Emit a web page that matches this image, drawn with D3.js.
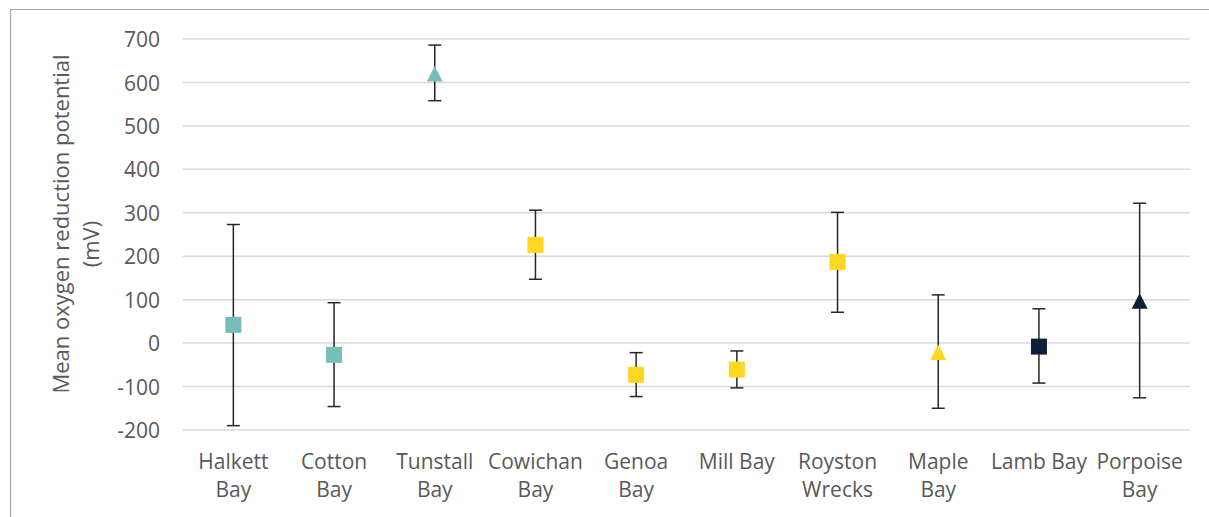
<!DOCTYPE html>
<html>
<head>
<meta charset="utf-8">
<script src="https://cdn.jsdelivr.net/npm/d3@7"></script>
<style>
  html, body { margin: 0; padding: 0; background: #fff; }
  svg { display: block; }
  text { font-family: "Open Sans", sans-serif; fill: #595959; }
</style>
</head>
<body>
<svg id="chart" width="1209" height="517"></svg>
<script>
// ---- data ----
const categories = ["Halkett Bay", "Cotton Bay", "Tunstall Bay", "Cowichan Bay", "Genoa Bay",
                    "Mill Bay", "Royston Wrecks", "Maple Bay", "Lamb Bay", "Porpoise Bay"];
const means      = [42, -27, 620, 226, -73, -61, 187, -21, -8, 97];
const errUpper   = [273, 93, 686, 306, -22, -18, 301, 111, 79, 322];
const errLower   = [-190, -146, 558, 147, -123, -103, 71, -150, -92, -126];
const groups     = ["teal", "teal", "teal", "yellow", "yellow", "yellow", "yellow", "yellow", "navy", "navy"];
const shapes     = ["square", "square", "triangle", "square", "square", "square", "square", "triangle", "square", "triangle"];
const yTicks     = [-200, -100, 0, 100, 200, 300, 400, 500, 600, 700];
const yTitle     = ["Mean oxygen reduction potential", "(mV)"];

const colors = { teal: "#76BEB9", yellow: "#FFD720", navy: "#0E1F38" };

// ---- layout ----
const svg = d3.select("#chart");
const plot = { left: 183, right: 1190, top: 39, bottom: 430 };

const x = d3.scaleBand().domain(categories).range([plot.left, plot.right]).padding(0);
const y = d3.scaleLinear().domain([-200, 700]).range([plot.bottom, plot.top]);

// frame
svg.append("path")
  .attr("d", `M10.5,520 L10.5,9.5 L1212,9.5`)
  .attr("fill", "none").attr("stroke", "#a6a6a6").attr("stroke-width", 1.2);

// gridlines
svg.append("g").selectAll("line").data(yTicks).join("line")
  .attr("x1", plot.left).attr("x2", plot.right)
  .attr("y1", d => y(d)).attr("y2", d => y(d))
  .attr("stroke", "#d9d9d9").attr("stroke-width", 1.5);

// y axis labels
const yAxis = d3.axisLeft(y).tickValues(yTicks).tickSize(0).tickPadding(0)
  .tickFormat(d => String(d));
const gy = svg.append("g").attr("transform", `translate(160,0)`).call(yAxis);
gy.select(".domain").remove();
gy.selectAll("text")
  .attr("font-size", 21).attr("fill", "#595959")
  .attr("font-family", "'Open Sans', sans-serif")
  .attr("dy", "0.36em");

// x axis labels
const xAxis = d3.axisBottom(x).tickSize(0).tickFormat("");
const gx = svg.append("g").attr("transform", `translate(0,${plot.bottom})`).call(xAxis);
gx.select(".domain").remove();
gx.selectAll(".tick").each(function(d) {
  const g = d3.select(this);
  g.select("text").remove();
  const t = g.append("text").attr("text-anchor", "middle").attr("font-size", 21)
    .attr("fill", "#595959");
  // wrap into lines that fit the band
  const words = d.split(" ");
  const lines = [];
  let cur = "";
  const probe = t.append("tspan");
  words.forEach(w => {
    const test = cur ? cur + " " + w : w;
    probe.text(test);
    if (probe.node().getComputedTextLength() > x.bandwidth() && cur) {
      lines.push(cur); cur = w;
    } else cur = test;
  });
  lines.push(cur);
  probe.remove();
  lines.forEach((ln, i) => {
    t.append("tspan").attr("x", 0).attr("y", 38.5 + i * 28.5).text(ln);
  });
});

// y title
const titleG = svg.append("g");
titleG.append("text")
  .attr("transform", `translate(69,224) rotate(-90)`)
  .attr("text-anchor", "middle").attr("font-size", 22)
  .text(yTitle[0]);
titleG.append("text")
  .attr("transform", `translate(99,244) rotate(-90)`)
  .attr("text-anchor", "middle").attr("font-size", 22)
  .text(yTitle[1]);

// error bars
const data = categories.map((c, i) => ({
  c, m: means[i], hi: errUpper[i], lo: errLower[i], g: groups[i], s: shapes[i]
}));
const cx = d => x(d.c) + x.bandwidth() / 2;
const capW = 6.5;
const eb = svg.append("g").attr("stroke", "#262626").attr("stroke-width", 1.5);
eb.selectAll("line.v").data(data).join("line").attr("class", "v")
  .attr("x1", cx).attr("x2", cx).attr("y1", d => y(d.hi)).attr("y2", d => y(d.lo));
eb.selectAll("line.t").data(data).join("line").attr("class", "t")
  .attr("x1", d => cx(d) - capW).attr("x2", d => cx(d) + capW)
  .attr("y1", d => y(d.hi)).attr("y2", d => y(d.hi));
eb.selectAll("line.b").data(data).join("line").attr("class", "b")
  .attr("x1", d => cx(d) - capW).attr("x2", d => cx(d) + capW)
  .attr("y1", d => y(d.lo)).attr("y2", d => y(d.lo));

// markers
const mk = svg.append("g");
mk.selectAll("path").data(data).join("path")
  .attr("fill", d => colors[d.g])
  .attr("d", d => {
    const px = cx(d), py = y(d.m);
    if (d.s === "square") {
      const h = 8;
      return `M${px - h},${py - h}H${px + h}V${py + h}H${px - h}Z`;
    }
    const w = 8, h = 7.8;
    return `M${px},${py - h}L${px + w},${py + h}L${px - w},${py + h}Z`;
  });
</script>
</body>
</html>
